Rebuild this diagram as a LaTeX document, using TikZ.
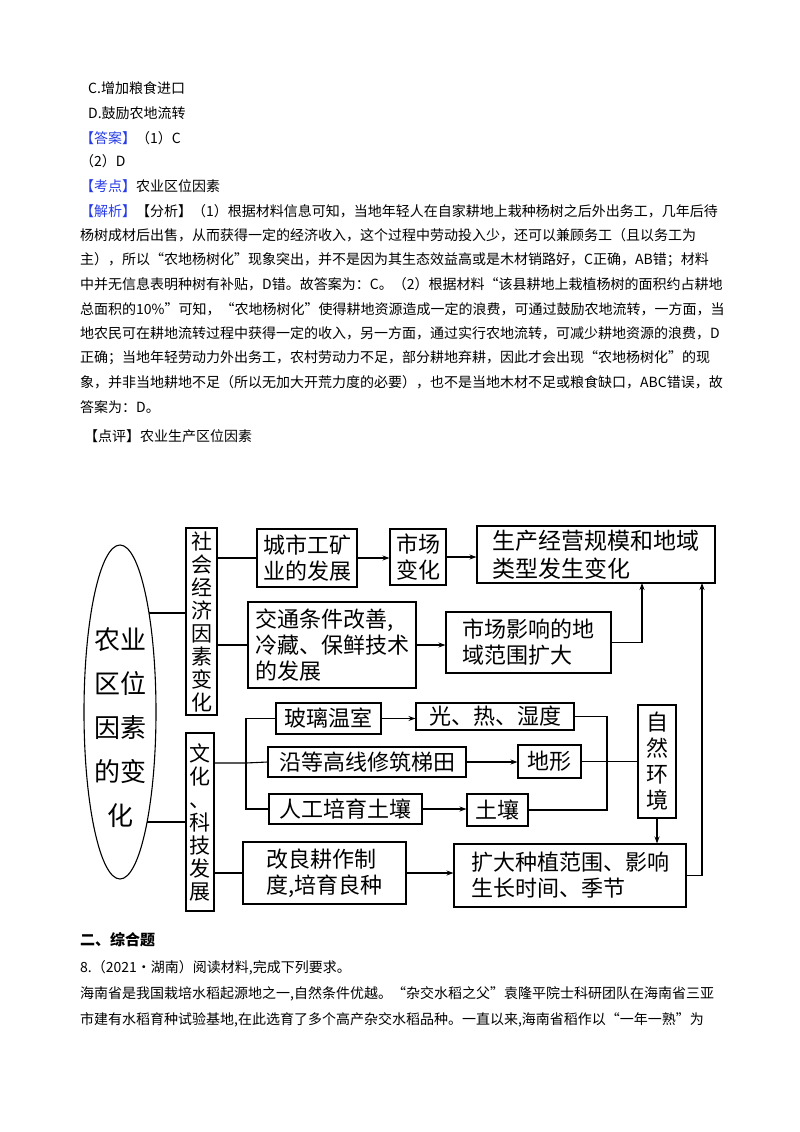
\documentclass[tikz,border=0pt]{standalone}
\usepackage{fontspec}
\setmainfont{Liberation Sans}
\newfontfamily\cjk{Noto Sans CJK SC}
\usetikzlibrary{arrows.meta,shapes.geometric}
\definecolor{lblue}{RGB}{40,60,230}
\begin{document}
\begin{tikzpicture}[x=1pt,y=-1pt,
  tl/.style={anchor=west,inner sep=0pt,font=\cjk\fontsize{14}{14}\selectfont},
  bx/.style={draw,line width=1.1pt,inner sep=1pt,align=center,font=\cjk\fontsize{22}{26}\selectfont},
  vb/.style={draw,line width=1.1pt,inner sep=0pt,align=center,font=\cjk\fontsize{21}{23}\selectfont},
  ln/.style={line width=1.1pt},
  ar/.style={line width=1.1pt,-{Stealth[length=7pt,width=5pt]}}]
\useasboundingbox (0,0) rectangle (800,1132);
\fill[white] (0,0) rectangle (800,1132);
% text
\node[tl] (t1) at (88,88) {C.增加粮食进口};
\node[tl] (t2) at (88,113) {D.鼓励农地流转};
\node[tl] (t3) at (80,138) {\textcolor{lblue}{【答案】}（1）C};
\node[tl] (t4) at (80,161) {（2）D};
\node[tl] (t5) at (80,186) {\textcolor{lblue}{【考点】}农业区位因素};
\node[tl] (p1) at (80,211) {\textcolor{lblue}{【解析】}【分析】（1）根据材料信息可知，当地年轻人在自家耕地上栽种杨树之后外出务工，几年后待};
\node[tl] (p2) at (80,235) {杨树成材后出售，从而获得一定的经济收入，这个过程中劳动投入少，还可以兼顾务工（且以务工为};
\node[tl] (p3) at (80,260) {主），所以“农地杨树化”现象突出，并不是因为其生态效益高或是木材销路好，C正确，AB错；材料};
\node[tl] (p4) at (80,284) {中并无信息表明种树有补贴，D错。故答案为：C。（2）根据材料“该县耕地上栽植杨树的面积约占耕地};
\node[tl] (p5) at (80,309) {总面积的10\%”可知，“农地杨树化”使得耕地资源造成一定的浪费，可通过鼓励农地流转，一方面，当};
\node[tl] (p6) at (80,333) {地农民可在耕地流转过程中获得一定的收入，另一方面，通过实行农地流转，可减少耕地资源的浪费，D};
\node[tl] (p7) at (80,358) {正确；当地年轻劳动力外出务工，农村劳动力不足，部分耕地弃耕，因此才会出现“农地杨树化”的现};
\node[tl] (p8) at (80,382) {象，并非当地耕地不足（所以无加大开荒力度的必要），也不是当地木材不足或粮食缺口，ABC错误，故};
\node[tl] (p9) at (80,407) {答案为：D。};
\node[tl] (p10) at (84,436) {【点评】农业生产区位因素};
\node[tl,font=\cjk\bfseries\fontsize{15}{15}\selectfont] (h2) at (80,940) {二、综合题};
\node[tl] (q1) at (80,968) {8.（2021·湖南）阅读材料,完成下列要求。};
\node[tl] (q2) at (80,994) {海南省是我国栽培水稻起源地之一,自然条件优越。“杂交水稻之父”袁隆平院士科研团队在海南省三亚};
\node[tl] (q3) at (80,1020) {市建有水稻育种试验基地,在此选育了多个高产杂交水稻品种。一直以来,海南省稻作以“一年一熟”为};
% diagram
\node[draw,line width=1.1pt,ellipse,minimum width=72pt,minimum height=334pt,inner sep=0pt] (ell) at (120,712) {};
\node[align=center,inner sep=0pt,font=\cjk\fontsize{26}{44}\selectfont] (ellt) at (120,728) {农业\\区位\\因素\\的变\\化};
\node[vb,minimum width=31pt,minimum height=187pt] (sh) at (201.5,621.5) {社\\会\\经\\济\\因\\素\\变\\化};
\node[bx,minimum width=100pt,minimum height=58pt] (cs) at (307,558) {城市工矿\\业的发展};
\node[bx,minimum width=56pt,minimum height=56pt] (sc) at (418,557) {市场\\变化};
\node[bx,minimum width=238pt,minimum height=57pt,font=\cjk\fontsize{23}{28}\selectfont] (sc2) at (596,554.5) {生产经营规模和地域\\\makebox[207pt][l]{类型发生变化}};
\node[bx,minimum width=168pt,minimum height=86pt,align=left] (jt) at (332,645) {交通条件改善,\\冷藏、保鲜技术\\的发展};
\node[bx,minimum width=165pt,minimum height=61pt,align=left] (yx) at (528.5,642.5) {市场影响的地\\域范围扩大};
\node[vb,minimum width=28pt,minimum height=178pt] (wh) at (200,822) {文\\化\\、\\科\\技\\发\\展};
\node[bx,minimum width=105pt,minimum height=31pt] (bl) at (328.5,718.5) {玻璃温室};
\node[bx,minimum width=158pt,minimum height=27pt] (gr) at (495,716.5) {光、热、湿度};
\node[bx,minimum width=198pt,minimum height=30pt] (yd) at (367,762) {沿等高线修筑梯田};
\node[bx,minimum width=63pt,minimum height=33pt] (dx) at (549.5,761.5) {地形};
\node[bx,minimum width=153pt,minimum height=30pt] (rg) at (345.5,809) {人工培育土壤};
\node[bx,minimum width=61pt,minimum height=32pt] (tr) at (497.5,810) {土壤};
\node[vb,minimum width=38pt,minimum height=113pt,font=\cjk\fontsize{22}{26}\selectfont] (zr) at (657,761.5) {自\\然\\环\\境};
\node[bx,minimum width=232pt,minimum height=63pt,align=left] (kd) at (570,875.5) {扩大种植范围、影响\\生长时间、季节};
\node[bx,minimum width=163pt,minimum height=62pt,align=left] (gl) at (324.5,873) {改良耕作制\\度,培育良种};
\coordinate (e1) at (149,613);
\coordinate (e2) at (147,822);
\coordinate (u1) at (642,583);
\coordinate (u2) at (702,583);
\coordinate (br) at (246,763);
\coordinate (rb) at (607,763);
\draw[ln] (e1) -- (e1 -| sh.west);
\draw[ln] (e2) -- (e2 -| wh.west);
\draw[ln] (sh.east |- cs.west) -- (cs.west);
\draw[ar] (cs.east) -- (sc.west |- cs.east);
\draw[ar] (sc.east) -- (sc2.west |- sc.east);
\draw[ln] (sh.east |- jt.west) -- (jt.west);
\draw[ar] (jt.east) -- (yx.west |- jt.east);
\draw[ar] (yx.east) -| (u1);
\draw[ar] (kd.east) -| (u2);
\draw[ln] (wh.east |- br) -- (br) -- (yd.west);
\draw[ln] (bl.west) -| (br) |- (rg.west);
\draw[ar] (bl.east) -- (gr.west |- bl.east);
\draw[ar] (yd.east) -- (dx.west |- yd.east);
\draw[ar] (rg.east) -- (tr.west |- rg.east);
\draw[ln] (gr.east) -| (rb) |- (tr.east);
\draw[ln] (dx.east) -- (zr.west |- dx.east);
\draw[ar] (zr.south) -- (zr.south |- kd.north);
\draw[ln] (wh.east |- gl.west) -- (gl.west);
\draw[ar] (gl.east) -- (kd.west |- gl.east);
\end{tikzpicture}
\end{document}
